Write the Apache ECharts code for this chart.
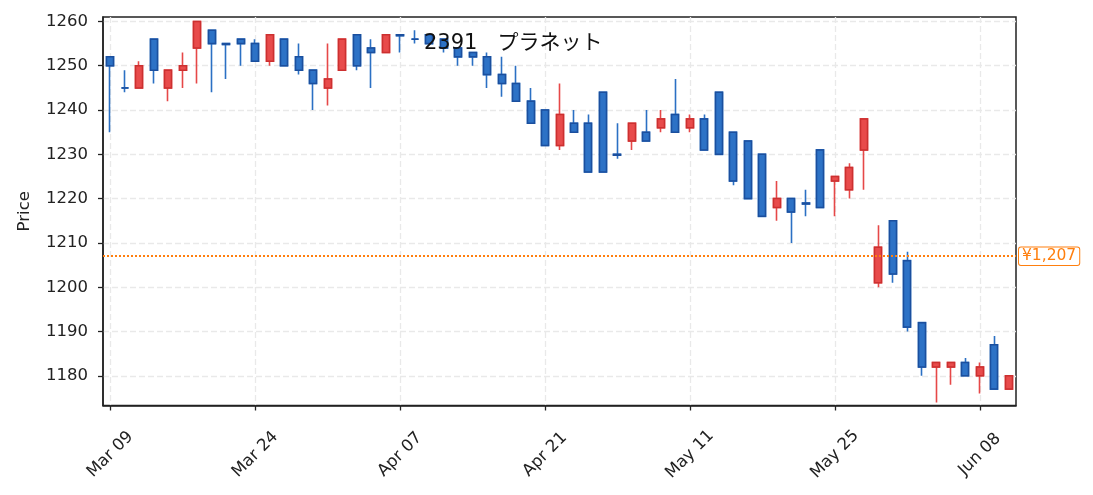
<!DOCTYPE html>
<html>
<head>
<meta charset="utf-8">
<script src="https://cdn.jsdelivr.net/npm/echarts@6/dist/echarts.min.js"></script>
<style>
html,body{margin:0;padding:0;background:#fff;}
#c{width:1093px;height:495px;}
</style>
</head>
<body>
<div id="c"></div>
<script>
const categories = ["Mar 09","Mar 10","Mar 11","Mar 12","Mar 13","Mar 16","Mar 17","Mar 18","Mar 19","Mar 23",
"Mar 24","Mar 25","Mar 26","Mar 27","Mar 30","Mar 31","Apr 01","Apr 02","Apr 03","Apr 06",
"Apr 07","Apr 08","Apr 09","Apr 10","Apr 13","Apr 14","Apr 15","Apr 16","Apr 17","Apr 20",
"Apr 21","Apr 22","Apr 23","Apr 24","Apr 27","Apr 28","Apr 30","May 01","May 07","May 08",
"May 11","May 12","May 13","May 14","May 15","May 18","May 19","May 20","May 21","May 22",
"May 25","May 26","May 27","May 28","May 29","Jun 01","Jun 02","Jun 03","Jun 04","Jun 05",
"Jun 08","Jun 09","Jun 10"];
const opens  = [1252,1245,1245,1256,1245,1249,1254,1258,1255,1256,
1255,1251,1256,1252,1249,1245,1249,1257,1254,1253,
1257,1256,1257,1256,1254,1253,1252,1248,1246,1242,
1240,1232,1237,1237,1244,1230,1233,1235,1236,1239,
1236,1238,1244,1235,1233,1230,1218,1220,1219,1231,
1224,1222,1231,1201,1215,1206,1192,1182,1182,1183,
1180,1187,1177];
const closes = [1250,1245,1250,1249,1249,1250,1260,1255,1254.8,1255,
1251,1257,1250,1249,1246,1247,1256,1250,1253,1257,
1256.8,1256,1255,1254,1252,1252,1248,1246,1242,1237,
1232,1239,1235,1226,1226,1229.8,1237,1233,1238,1235,
1238,1231,1230,1224,1220,1216,1220,1217,1218.8,1218,
1225,1227,1238,1209,1203,1191,1182,1183,1183,1180,
1182,1177,1180];
const lows   = [1235,1244,1245,1246,1242,1245,1246,1244,1247,1250,
1251,1250,1250,1248,1240,1241,1249,1249,1245,1253,
1253,1255,1255,1253,1250,1250,1245,1243,1242,1237,
1232,1231,1235,1226,1226,1229,1231,1233,1235,1235,
1235,1231,1230,1223,1220,1216,1215,1210,1216,1218,
1216,1220,1222,1200,1201,1190,1180,1174,1178,1180,
1176,1177,1177];
const highs  = [1252,1249,1251,1256,1249,1253,1260,1258,1255,1256,
1256,1257,1256,1255,1249,1255,1256,1257,1256,1257,
1257,1258,1257,1256,1254,1253,1253,1252,1250,1245,
1240,1246,1240,1239,1244,1237,1237,1240,1240,1247,
1239,1239,1244,1235,1233,1230,1224,1220,1222,1231,
1225,1228,1238,1214,1215,1208,1192,1183,1183,1184,
1183,1189,1180];
const refPrice = 1207;
const titleText = "2391   プラネット";
const yMin = 1173.3, yMax = 1261;

const ohlc = categories.map((_, i) => [opens[i], closes[i], lows[i], highs[i]]);
const bodies = categories.map((_, i) => [opens[i], closes[i], Math.min(opens[i], closes[i]), Math.max(opens[i], closes[i])]);

const UP_FILL = '#e84b4b', UP_EDGE = '#cc3030', UP_WICK = '#e64848';
const DN_FILL = '#2d72c6', DN_EDGE = '#1b4f9e', DN_WICK = '#2b70c4';
const FONT = '"DejaVu Sans", "Noto Sans CJK JP", sans-serif';

const chart = echarts.init(document.getElementById('c'), null, {renderer: 'canvas'});
chart.setOption({
  animation: false,
  backgroundColor: '#fff',
  textStyle: {fontFamily: FONT},
  title: {
    text: titleText,
    left: 419, top: 28.5,
    textStyle: {fontSize: 21, fontWeight: 'normal', color: '#111', fontFamily: FONT}
  },
  grid: {left: 103, right: 77, top: 17, bottom: 89.5, show: true, borderColor: '#222', borderWidth: 1.5, backgroundColor: 'transparent'},
  xAxis: {
    type: 'category',
    data: categories,
    boundaryGap: true,
    axisLine: {show: true, lineStyle: {color: '#222', width: 1.5}},
    axisTick: {show: true, alignWithLabel: true, interval: 9, length: 5, lineStyle: {color: '#222', width: 1.3}},
    axisLabel: {interval: 9, rotate: 45, align: 'center', verticalAlign: 'middle', margin: 49, fontSize: 16.5, color: '#222', fontFamily: FONT},
    splitLine: {show: true, alignWithLabel: true, interval: 9, lineStyle: {color: '#e9e9e9', type: [6, 3], width: 1.3}}
  },
  yAxis: {
    type: 'value',
    min: yMin, max: yMax,
    splitNumber: 9, minInterval: 10, maxInterval: 10,
    name: 'Price', nameLocation: 'middle', nameGap: 70, nameRotate: 90,
    nameTextStyle: {fontSize: 16.5, color: '#222', fontFamily: FONT},
    axisLine: {show: true, lineStyle: {color: '#222', width: 1.5}},
    axisTick: {show: true, length: 5, lineStyle: {color: '#222', width: 1.3}},
    axisLabel: {margin: 15, fontSize: 16.5, color: '#222', showMinLabel: false, showMaxLabel: false, fontFamily: FONT,
      formatter: v => String(v)},
    splitLine: {show: true, showMinLine: false, showMaxLine: false, lineStyle: {color: '#e9e9e9', type: [6, 3], width: 1.3}}
  },
  series: [
    {
      type: 'candlestick',
      data: ohlc,
      barWidth: 7.5,
      itemStyle: {color: UP_FILL, color0: DN_FILL, borderColor: UP_WICK, borderColor0: DN_WICK, borderWidth: 1.6},
      markLine: {
        silent: true,
        symbol: ['none', 'none'],
        data: [{yAxis: refPrice}],
        lineStyle: {color: '#ff7f0e', type: 'dotted', width: 2},
        label: {
          show: true, position: 'end', distance: 3,
          formatter: '¥' + refPrice.toLocaleString('en-US'),
          color: '#ff7f0e', fontSize: 15.5, fontFamily: FONT,
          backgroundColor: '#fff', borderColor: '#ff7f0e', borderWidth: 1, borderRadius: 2, padding: [1, 3]
        }
      }
    },
    {
      type: 'candlestick',
      data: bodies,
      barWidth: 7.5,
      itemStyle: {color: UP_FILL, color0: DN_FILL, borderColor: UP_EDGE, borderColor0: DN_EDGE, borderWidth: 1.5}
    }
  ]
});
</script>
</body>
</html>
